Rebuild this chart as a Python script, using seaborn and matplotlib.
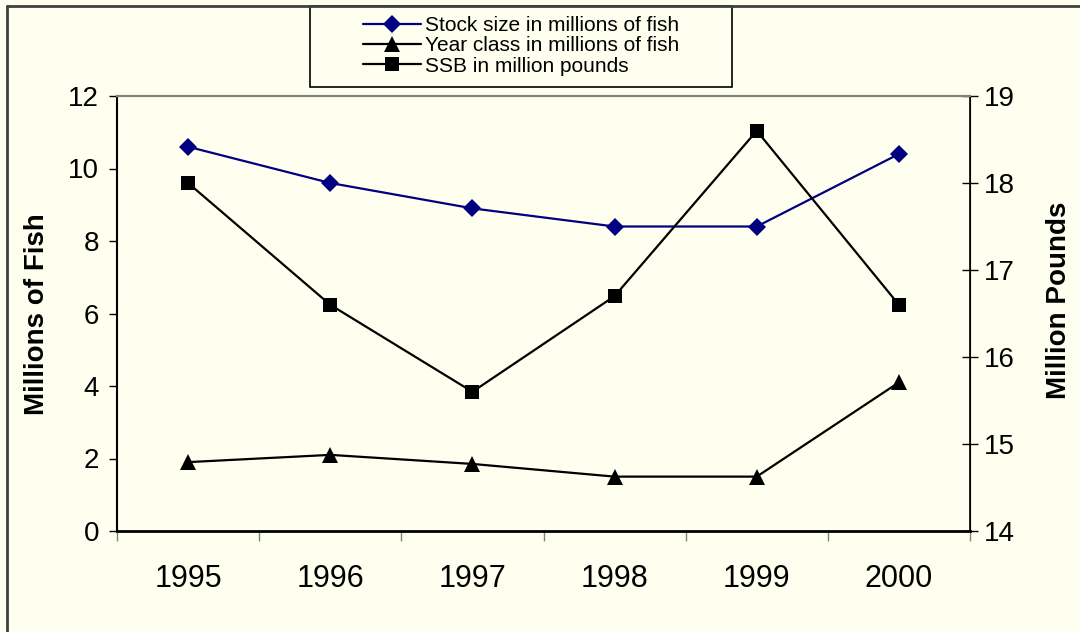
import pandas as pd
import seaborn as sns
import numpy as np
import matplotlib.pyplot as plt
from matplotlib.lines import Line2D
from matplotlib.patches import Rectangle

# values
years = [1995, 1996, 1997, 1998, 1999, 2000]
stock_size = [10.6, 9.6, 8.9, 8.4, 8.4, 10.4]    # millions of fish
year_class = [1.9, 2.1, 1.85, 1.5, 1.5, 4.1]      # millions of fish
ssb = [18.0, 16.6, 15.6, 16.7, 18.6, 16.6]        # million pounds
left_ticks = [0, 2, 4, 6, 8, 10, 12]
right_ticks = [14, 15, 16, 17, 18, 19]
labels = ['Stock size in millions of fish',
          'Year class in millions of fish',
          'SSB in million pounds']

df = pd.DataFrame({'year': years, 'stock': stock_size,
                   'yclass': year_class, 'ssb': ssb})

sns.set_style('ticks')
plt.rcParams['font.family'] = ['Liberation Sans', 'DejaVu Sans']
plt.rcParams['text.color'] = 'black'
plt.rcParams['xtick.color'] = 'black'
plt.rcParams['ytick.color'] = 'black'
plt.rcParams['axes.edgecolor'] = 'black'

bg = '#FFFFF0'
fig = plt.figure(figsize=(10.8, 6.32), dpi=100, facecolor=bg)
ax = fig.add_axes([117/1080, 1-531/632, 853/1080, 435/632])
ax.set_facecolor(bg)
ax2 = ax.twinx()

sns.lineplot(data=df, x='year', y='stock', ax=ax, color='#000080',
             marker='D', markersize=9, markeredgewidth=0, linewidth=1.6)
sns.lineplot(data=df, x='year', y='yclass', ax=ax, color='black',
             marker='^', markersize=11, markeredgewidth=0, linewidth=1.6)
sns.lineplot(data=df, x='year', y='ssb', ax=ax2, color='black',
             marker='s', markersize=10, markeredgewidth=0, linewidth=1.6)

# axes limits / ticks
ax.set_xlim(years[0]-0.5, years[-1]+0.5)
ax.set_ylim(0, 12)
ax2.set_ylim(14, 19)
ax.set_xticks(years)
ax.set_xticklabels([str(y) for y in years])
ax.set_xticks(np.arange(years[0]-0.5, years[-1]+1, 1), minor=True)
ax.tick_params(axis='x', which='major', length=0, pad=24, labelsize=22, labelcolor='black')
ax.tick_params(axis='x', which='minor', length=7, width=1, color='#808080', direction='out')
ax.set_yticks(left_ticks)
ax.tick_params(axis='y', which='major', length=6, width=1, direction='out', pad=7,
               labelsize=20, color='black', labelcolor='black')
ax2.set_yticks(right_ticks)
ax2.tick_params(axis='y', which='major', length=12, width=1, direction='inout', pad=4,
                labelsize=20, color='black', labelcolor='black')
ax.set_xlabel('')
ax.set_ylabel('')
ax2.set_ylabel('')

for a in (ax, ax2):
    a.spines['top'].set_color('#808080')
    a.spines['top'].set_linewidth(1.5)
ax.spines['left'].set_linewidth(1.5)
ax.spines['bottom'].set_linewidth(2)
ax2.spines['right'].set_linewidth(1.2)
ax2.spines['left'].set_visible(False)
ax2.spines['bottom'].set_visible(False)

fig.text(37/1080, 1-314/632, 'Millions of Fish', rotation=90, ha='center',
         va='center', fontsize=20, fontweight='bold')
fig.text(1059/1080, 1-300/632, 'Million Pounds', rotation=90, ha='center',
         va='center', fontsize=20, fontweight='bold')

# legend box
handles = [Line2D([], [], color='#000080', marker='D', markersize=9, markeredgewidth=0, linewidth=1.6),
           Line2D([], [], color='black', marker='^', markersize=11, markeredgewidth=0, linewidth=1.6),
           Line2D([], [], color='black', marker='s', markersize=10, markeredgewidth=0, linewidth=1.6)]
fig.patches.append(Rectangle((310/1080, 1-87/632), 422/1080, 81/632,
                             transform=fig.transFigure, facecolor=bg,
                             edgecolor='black', linewidth=1.2, zorder=1))
fig.legend(handles, labels, loc='center', bbox_to_anchor=(521/1080, 1-46/632),
           frameon=False, fontsize=15, labelspacing=0.05, handlelength=2.8,
           handletextpad=0.2, borderpad=0)

# outer border (top and left)
fig.add_artist(Line2D([7/1080, 1], [1-6/632, 1-6/632], transform=fig.transFigure,
                      color='#404040', linewidth=2))
fig.add_artist(Line2D([7/1080, 7/1080], [0, 1-6/632], transform=fig.transFigure,
                      color='#404040', linewidth=2))

fig.savefig('out.png', dpi=100, facecolor=bg)
